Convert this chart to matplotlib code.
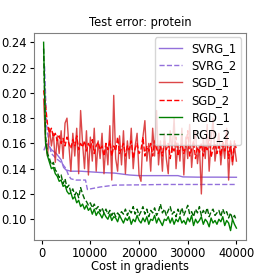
import numpy as np
import matplotlib
matplotlib.use("Agg")
import matplotlib.pyplot as plt

# gradient cost grid for SGD / RGD runs
cost = np.arange(400, 40001, 400)

sgd_1 = [0.195, 0.162, 0.150, 0.172, 0.158, 0.168, 0.145, 0.166, 0.152, 0.170,
         0.148, 0.176, 0.180, 0.158, 0.138, 0.168, 0.150, 0.172, 0.136, 0.186,
         0.160, 0.140, 0.170, 0.135, 0.165, 0.146, 0.172, 0.138, 0.162, 0.148,
         0.168, 0.136, 0.160, 0.143, 0.174, 0.131, 0.198, 0.148, 0.138, 0.166,
         0.143, 0.170, 0.136, 0.162, 0.148, 0.172, 0.140, 0.158, 0.168, 0.135,
         0.130, 0.165, 0.178, 0.146, 0.160, 0.138, 0.172, 0.150, 0.186, 0.143,
         0.162, 0.138, 0.168, 0.148, 0.136, 0.170, 0.153, 0.180, 0.140, 0.160,
         0.146, 0.172, 0.135, 0.165, 0.148, 0.175, 0.141, 0.160, 0.170, 0.144,
         0.158, 0.120, 0.165, 0.148, 0.175, 0.138, 0.162, 0.180, 0.146, 0.158,
         0.168, 0.143, 0.160, 0.148, 0.172, 0.131, 0.162, 0.143, 0.158, 0.146]

sgd_2 = [0.202, 0.190, 0.175, 0.168, 0.172, 0.165, 0.168, 0.162, 0.166, 0.160,
         0.164, 0.158, 0.165, 0.160, 0.156, 0.163, 0.158, 0.166, 0.155, 0.160,
         0.157, 0.162, 0.154, 0.160, 0.156, 0.163, 0.152, 0.158, 0.161, 0.155,
         0.158, 0.150, 0.160, 0.155, 0.162, 0.150, 0.158, 0.154, 0.165, 0.152,
         0.156, 0.160, 0.150, 0.158, 0.155, 0.162, 0.148, 0.156, 0.160, 0.152,
         0.155, 0.165, 0.150, 0.158, 0.154, 0.160, 0.150, 0.162, 0.156, 0.152,
         0.158, 0.150, 0.163, 0.155, 0.160, 0.148, 0.157, 0.154, 0.165, 0.150,
         0.156, 0.160, 0.152, 0.158, 0.170, 0.150, 0.155, 0.162, 0.148, 0.157,
         0.153, 0.160, 0.150, 0.158, 0.155, 0.165, 0.149, 0.156, 0.160, 0.152,
         0.158, 0.150, 0.162, 0.154, 0.168, 0.148, 0.160, 0.145, 0.162, 0.155]

rgd_1 = [0.240, 0.160, 0.150, 0.145, 0.140, 0.141, 0.136, 0.134, 0.130, 0.131,
         0.126, 0.127, 0.122, 0.120, 0.121, 0.116, 0.118, 0.113, 0.115, 0.110,
         0.112, 0.108, 0.111, 0.107, 0.109, 0.104, 0.108, 0.103, 0.106, 0.104,
         0.101, 0.105, 0.102, 0.100, 0.104, 0.099, 0.102, 0.101, 0.098, 0.103,
         0.100, 0.097, 0.101, 0.099, 0.102, 0.096, 0.100, 0.098, 0.103, 0.099,
         0.097, 0.101, 0.098, 0.102, 0.096, 0.100, 0.099, 0.103, 0.097, 0.101,
         0.098, 0.095, 0.100, 0.099, 0.102, 0.097, 0.101, 0.096, 0.100, 0.098,
         0.102, 0.097, 0.099, 0.096, 0.101, 0.098, 0.103, 0.095, 0.100, 0.097,
         0.099, 0.102, 0.096, 0.100, 0.098, 0.094, 0.101, 0.097, 0.099, 0.096,
         0.100, 0.098, 0.102, 0.095, 0.099, 0.097, 0.091, 0.100, 0.096, 0.093]

rgd_2 = [0.235, 0.165, 0.152, 0.148, 0.143, 0.145, 0.139, 0.137, 0.133, 0.135,
         0.128, 0.132, 0.125, 0.127, 0.121, 0.124, 0.119, 0.122, 0.117, 0.125,
         0.120, 0.116, 0.114, 0.111, 0.113, 0.109, 0.112, 0.108, 0.110, 0.106,
         0.109, 0.105, 0.108, 0.104, 0.107, 0.103, 0.106, 0.102, 0.105, 0.103,
         0.106, 0.104, 0.108, 0.103, 0.107, 0.105, 0.110, 0.104, 0.108, 0.103,
         0.106, 0.110, 0.104, 0.108, 0.102, 0.107, 0.105, 0.109, 0.103, 0.106,
         0.112, 0.105, 0.108, 0.103, 0.107, 0.110, 0.104, 0.106, 0.102, 0.108,
         0.104, 0.109, 0.103, 0.107, 0.111, 0.104, 0.106, 0.102, 0.108, 0.105,
         0.110, 0.103, 0.107, 0.104, 0.109, 0.102, 0.106, 0.108, 0.103, 0.105,
         0.107, 0.102, 0.108, 0.104, 0.106, 0.101, 0.105, 0.100, 0.103, 0.099]

# SVRG runs are smoother, fewer points
svrg1_cost = [500, 1000, 1500, 2000, 3000, 4000, 4500, 5000, 6000, 8000, 10000,
              12000, 15000, 18000, 20000, 24000, 28000, 29000, 32000, 36000, 40000]
svrg_1 = [0.155, 0.160, 0.158, 0.155, 0.152, 0.147, 0.141, 0.139, 0.138, 0.138, 0.1375,
          0.137, 0.1365, 0.135, 0.1345, 0.1345, 0.1345, 0.1335, 0.1333, 0.1333, 0.1332]

svrg2_cost = [600, 1000, 1500, 2000, 3000, 4000, 5000, 5500, 6000, 7000, 9000,
              9400, 10000, 12000, 15000, 20000, 25000, 30000, 35000, 40000]
svrg_2 = [0.221, 0.175, 0.160, 0.152, 0.148, 0.145, 0.140, 0.135, 0.132, 0.131, 0.131,
          0.1235, 0.124, 0.1255, 0.127, 0.1272, 0.1275, 0.1275, 0.1275, 0.1275]

fs = 8.3
fig = plt.figure(figsize=(2.74, 2.74), dpi=100)
ax = fig.add_axes([0.124, 0.124, 0.774, 0.756])

ax.plot(svrg1_cost, svrg_1, color='mediumpurple', lw=1, label='SVRG_1')
ax.plot(svrg2_cost, svrg_2, color='mediumpurple', lw=1, ls='--', label='SVRG_2')
ax.plot(cost, sgd_1, color='tab:red', lw=1, alpha=0.85, label='SGD_1')
ax.plot(cost, sgd_2, color='red', lw=1, ls='--', label='SGD_2')
ax.plot(cost, rgd_1, color='green', lw=1, label='RGD_1')
ax.plot(cost, rgd_2, color='darkgreen', lw=1, ls='--', label='RGD_2')

ax.set_title('Test error: protein', fontsize=fs, pad=5)
ax.set_xlabel('Cost in gradients', fontsize=fs, labelpad=0)
ax.set_xticks([0, 10000, 20000, 30000, 40000])
ax.set_yticks([0.10, 0.12, 0.14, 0.16, 0.18, 0.20, 0.22, 0.24])
ax.tick_params(labelsize=fs, length=3, pad=2)
for s in ax.spines.values():
    s.set_color('gray')

ax.legend(loc='upper right', fontsize=fs, handlelength=2.0, borderaxespad=0.4,
          labelspacing=0.36, framealpha=0.8)

fig.savefig('out.png', dpi=100)
